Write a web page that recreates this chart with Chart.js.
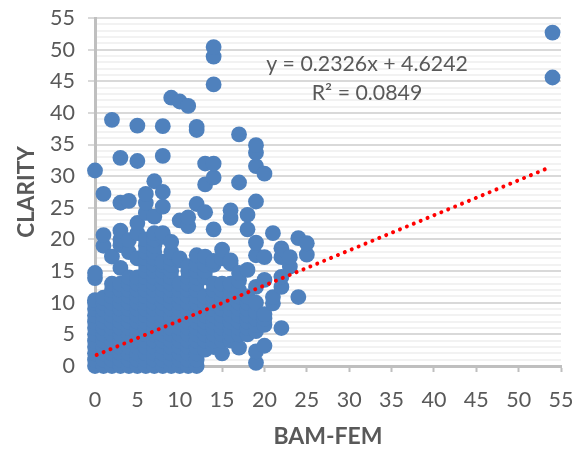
<!DOCTYPE html>
<html><head><meta charset="utf-8">
<style>html,body{margin:0;padding:0;background:#fff}#w{width:582px;height:450px;position:relative}</style>
<script src="https://cdn.jsdelivr.net/npm/chart.js@4"></script>
</head><body><div id="w"><canvas id="c" width="582" height="450"></canvas></div>
<script>
const bamFem = [0,1,2,3,4,5,6,7,8,9,10,11,12,13,14,15,16,17,18,19,20,21,22,23,24,25,54];
const clarity0 = [0,1,2,3,4,5,6,7,8,9,10,10.4,13.9,14.7,30.9];
const clarity1 = [0,1,2,3,4,5,6,7,8,9,10,10.8,19,20.7,27.2];
const clarity2 = [0,1,2,3,4,5,6,7,8,9,10,11,12,13,17.3,38.9];
const clarity3 = [0,1,2,3,4,5,6,7,8,9,10,11,12,13,15.5,19.1,20,21.4,25.8,32.9];
const clarity4 = [0,1,2,3,4,5,6,7,8,9,10,11,12,13,14,18,19.9,26.1];
const clarity5 = [0,1,2,3,4,5,6,7,8,9,10,11,12,13,14,17,21,22.6,32.4,38];
const clarity6 = [0,1,2,3,4,5,6,7,8,9,10,11,12,13,14,15,16,17,18,19,20,24.2,25.8,27.2];
const clarity7 = [0,1,2,3,4,5,6,7,8,9,10,11,12,13,14,15,16,17,18,19,20,21,23.6,29.2];
const clarity8 = [0,1,2,3,4,5,6,7,8,9,10,11,12,13,14,15,16,16.5,20.4,21,25.2,27.5,33.2,37.9];
const clarity9 = [0,1,2,3,4,5,6,7,8,9,10,11,12,13,14,15,16,17,18,19.6,42.4];
const clarity10 = [0,1,2,3,4,5,6,7,8,9,10,11,12,13,16.7,17,23,41.8];
const clarity11 = [0,1,2,3,4,5,6,7,8,9,10,11,12,13,14,15,15.8,22.1,23.5,41.1];
const clarity12 = [0,1,2,3,4,5,6,7,8,9,10,11,12,13,14,15,16,17.5,25.6,37.3,37.8];
const clarity13 = [2.6,4,5,6,7,8,9,10,11,14,15,16,17.3,24.3,28.7,32];
const clarity14 = [3,4,5,6,7,8,9,10,11,12,13,16,16.6,21.6,29.8,32,44.5,48.9,50.4];
const clarity15 = [2,4,5,6,7,8,9,10,11,12,13,17,18.4];
const clarity16 = [4,5,6,7,8,9,10,11,12,13,16.2,16.7,23.4,24.6];
const clarity17 = [2.9,5,6,7,8,9,10,11,12,13.5,14.7,29,36.6];
const clarity18 = [5,6,7,8,9,10,11,15.2,21.6,23.9];
const clarity19 = [0.5,2.3,5.5,6.5,7.5,8.5,10,12.5,17.5,19.5,26,31.6,33.7,34.9];
const clarity20 = [3.2,6.5,7.5,8.2,13.6,17.2,30.4];
const clarity21 = [9.9,10.9,21];
const clarity22 = [6,12.5,14.1,17.2,18.6];
const clarity23 = [15.7,17.2];
const clarity24 = [10.9,20.2];
const clarity25 = [17.6,19.4];
const clarity54 = [45.6,52.7];
const clarityByX = [clarity0,clarity1,clarity2,clarity3,clarity4,clarity5,clarity6,clarity7,clarity8,clarity9,clarity10,clarity11,clarity12,clarity13,clarity14,clarity15,clarity16,clarity17,clarity18,clarity19,clarity20,clarity21,clarity22,clarity23,clarity24,clarity25,clarity54];
const trendX = [0.2,53.5];
const trendY = [1.75,31.3];
const equationLines = ["y = 0.2326x + 4.6242","R² = 0.0849"];
const xTitle = "BAM-FEM", yTitle = "CLARITY";

const points = [];
bamFem.forEach((x,i)=>clarityByX[i].forEach(y=>points.push({x,y})));
const FONT = 'Lato, Carlito, sans-serif';

const equationPlugin = {
  id:'equation',
  afterDraw(chart){
    const c = chart.ctx; c.save();
    c.font = '21.3px '+FONT; c.fillStyle='#595959'; c.textAlign='center'; c.textBaseline='middle';
    c.fillText(equationLines[0],367,64);
    c.fillText(equationLines[1],367,93);
    c.restore();
  }
};

new Chart(document.getElementById('c'),{
  type:'scatter',
  data:{datasets:[
    {label:'trend',type:'line',order:0,data:trendX.map((x,i)=>({x,y:trendY[i]})),borderColor:'#FF0000',borderWidth:4,borderCapStyle:'round',borderDash:[0.01,7.45],pointRadius:0,fill:false,tension:0,clip:false},
    {label:'points',order:1,data:points,backgroundColor:'#4F81BD',borderWidth:0,pointRadius:7.9,pointHoverRadius:7.9,clip:false}
  ]},
  options:{
    responsive:false,animation:false,
    layout:{padding:{left:0,right:21,top:18,bottom:0}},
    plugins:{legend:{display:false},tooltip:{enabled:false}},
    scales:{
      x:{type:'linear',min:0,max:55,
        afterFit(s){s.height=84;s.paddingLeft=0;s.paddingRight=0;},
        border:{color:'#BFBFBF',width:3},
        grid:{drawOnChartArea:false,drawTicks:true,tickLength:6,tickColor:'#BFBFBF',tickWidth:2},
        ticks:{stepSize:5,autoSkip:false,maxRotation:0,padding:15,color:'#595959',font:{family:FONT,size:21.5}},
        title:{display:true,text:xTitle,color:'#595959',font:{family:FONT,size:23,weight:'bold'},padding:{top:4,bottom:0}}
      },
      y:{type:'linear',min:0,max:55,
        afterFit(s){s.width=95;s.paddingTop=0;s.paddingBottom=0;},
        border:{color:'#BFBFBF',width:3},
        grid:{
          color:c=>c.tick.value%5===0?'#D9D9D9':'#F2F2F2',
          tickColor:c=>c.tick.value%5===0?'#D9D9D9':'rgba(0,0,0,0)',
          lineWidth:2,tickLength:7,tickWidth:2
        },
        ticks:{stepSize:1,autoSkip:false,padding:13,color:'#595959',font:{family:FONT,size:21.5},
          callback:v=>v%5===0?String(v):''},
        title:{display:true,text:yTitle,color:'#595959',font:{family:FONT,size:22.5,weight:'bold'},padding:{top:13,bottom:0}}
      }
    }
  },
  plugins:[equationPlugin]
});
</script></body></html>
